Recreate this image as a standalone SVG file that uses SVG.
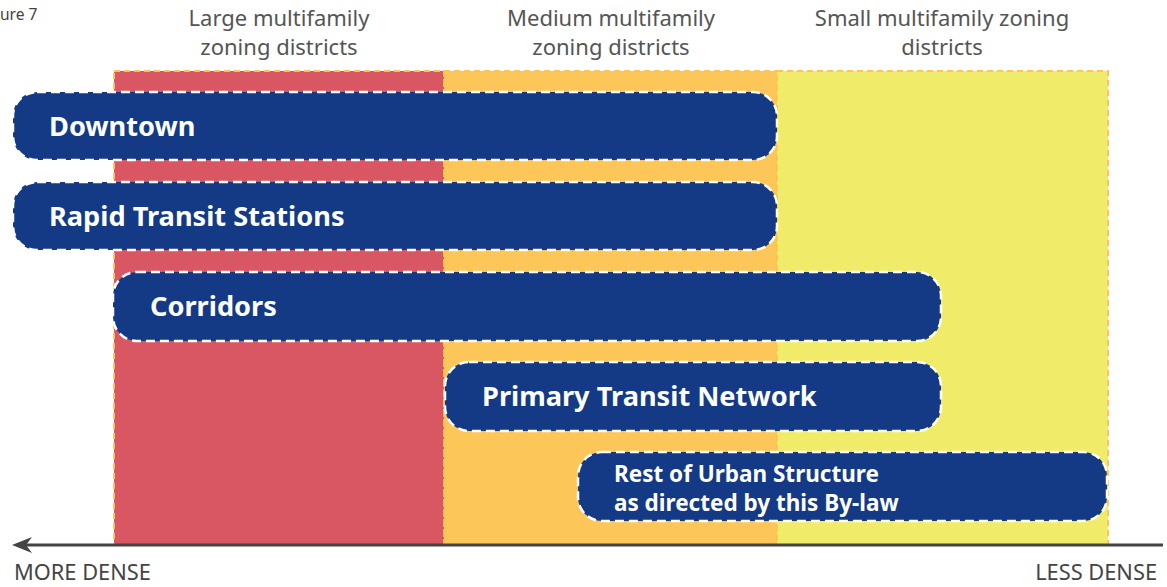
<svg xmlns="http://www.w3.org/2000/svg" width="1167" height="587" viewBox="0 0 1167 587">
<defs>
<style>
.hdr{font-family:"Source Sans Pro","Noto Sans","Liberation Sans",sans-serif;font-size:22px;fill:#555;text-anchor:middle}
.col{stroke:#FFC455;stroke-width:2;stroke-dasharray:6,4}
.pill{fill:#143985;stroke:#fff;stroke-width:2.5;stroke-dasharray:9,5}
.pt{font-family:"Noto Sans","Liberation Sans",sans-serif;font-weight:bold;font-size:27.2px;fill:#fff}
.pt2{font-family:"Noto Sans","Liberation Sans",sans-serif;font-weight:bold;font-size:22.5px;fill:#fff}
.ax{font-family:"Noto Sans","Liberation Sans",sans-serif;font-size:21.8px;fill:#444}
</style>
</defs>
<rect width="1167" height="587" fill="#fff"/>
<text x="0" y="20" font-family="Noto Sans, Liberation Sans, sans-serif" font-size="15.5" fill="#444">ure 7</text>
<g id="headers">
<text class="hdr" x="279" y="26">Large multifamily</text>
<text class="hdr" x="279" y="55">zoning districts</text>
<text class="hdr" x="611" y="26">Medium multifamily</text>
<text class="hdr" x="611" y="55">zoning districts</text>
<text class="hdr" x="942" y="26">Small multifamily zoning</text>
<text class="hdr" x="942" y="55">districts</text>
</g>
<g id="columns">
<rect class="col" x="114" y="71" width="330" height="474" fill="#D95763"/>
<rect class="col" x="444" y="71" width="333" height="474" fill="#FDC659"/>
<rect class="col" x="777" y="71" width="331" height="474" fill="#F0EC6A"/>
</g>
<g id="axis">
<line x1="22" y1="545" x2="1163" y2="545" stroke="#444" stroke-width="3"/>
<path d="M12,545 L32,537 L26,545 L32,553 Z" fill="#444"/>
<text class="ax" x="14" y="580">MORE DENSE</text>
<text class="ax" x="1157" y="580" text-anchor="end">LESS DENSE</text>
</g>
<g id="downtown">
<rect class="pill" x="13" y="92" width="764" height="68" rx="24"/>
<text class="pt" x="49" y="136">Downtown</text>
</g>
<g id="rapid">
<rect class="pill" x="13" y="182" width="764" height="68" rx="24"/>
<text class="pt" x="49" y="226">Rapid Transit Stations</text>
</g>
<g id="corridors">
<rect class="pill" x="113" y="272" width="828" height="69" rx="24"/>
<text class="pt" x="150" y="316">Corridors</text>
</g>
<g id="ptn">
<rect class="pill" x="445" y="362" width="496" height="69" rx="24"/>
<text class="pt" x="482" y="406">Primary Transit Network</text>
</g>
<g id="rest">
<rect class="pill" x="578" y="452" width="529" height="69" rx="24"/>
<text class="pt2" x="614" y="482">Rest of Urban Structure</text>
<text class="pt2" x="614" y="511">as directed by this By-law</text>
</g>
</svg>
